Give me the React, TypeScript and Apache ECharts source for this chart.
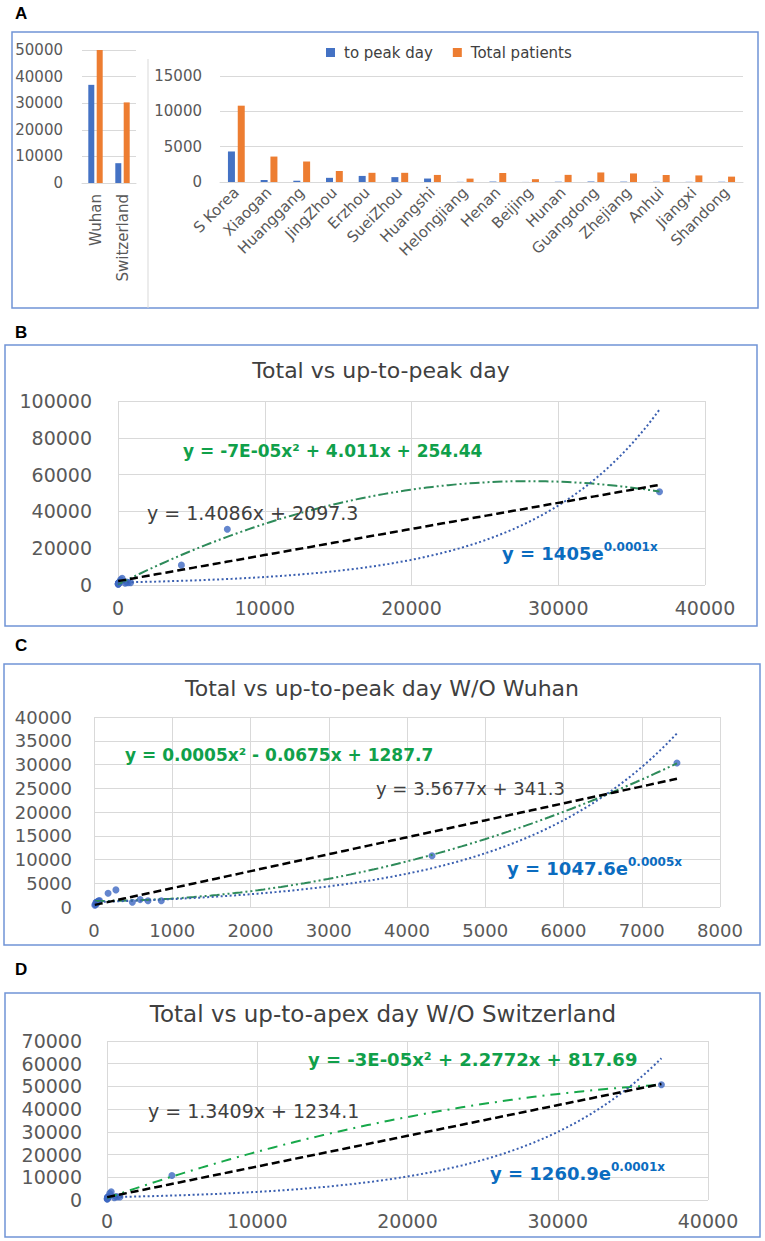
import React, { useEffect, useRef } from 'react';
import * as echarts from 'echarts';

// ---------- data ----------
const leftCategories = ['Wuhan', 'Switzerland'];
const leftToPeak = [36900, 7450];
const leftTotal = [50700, 30300];

const rightCategories = [
  'S Korea', 'Xiaogan', 'Huanggang', 'JingZhou', 'Erzhou', 'SueiZhou', 'Huangshi', 'Helongjiang',
  'Henan', 'Beijing', 'Hunan', 'Guangdong', 'Zhejiang', 'Anhui', 'Jiangxi', 'Shandong',
];
const rightToPeak = [4320, 280, 180, 590, 860, 690, 490, 20, 60, 10, 40, 70, 50, 30, 25, 35];
const rightTotal = [10800, 3600, 2900, 1560, 1300, 1300, 1000, 480, 1270, 400, 1010, 1350, 1210, 990, 930, 760];

const legendNames = ['to peak day', 'Total patients'];
const panelLetters = ['A', 'B', 'C', 'D'];
const scatterTitles = [
  'Total vs up-to-peak day',
  'Total vs up-to-peak day W/O Wuhan',
  'Total vs up-to-apex day W/O Switzerland',
];
const quadLabels = [
  'y = -7E-05x² + 4.011x + 254.44',
  'y = 0.0005x² - 0.0675x + 1287.7',
  'y = -3E-05x² + 2.2772x + 817.69',
];
const linLabels = ['y = 1.4086x + 2097.3', 'y = 3.5677x + 341.3', 'y = 1.3409x + 1234.1'];
const expBaseLabels = ['y = 1405e', 'y = 1047.6e', 'y = 1260.9e'];
const expPowLabels = ['0.0001x', '0.0005x', '0.0001x'];

// ---------- fitting helpers (trendlines fitted to the data, as the spreadsheet does) ----------
type P = [number, number];
function fitLinear(pts: P[]) {
  const n = pts.length;
  let sx = 0, sy = 0, sxx = 0, sxy = 0;
  for (const [x, y] of pts) { sx += x; sy += y; sxx += x * x; sxy += x * y; }
  const a = (n * sxy - sx * sy) / (n * sxx - sx * sx);
  const b = (sy - a * sx) / n;
  return (x: number) => a * x + b;
}
function fitExp(pts: P[]) {
  const f = fitLinear(pts.map(([x, y]) => [x, Math.log(y)] as P));
  return (x: number) => Math.exp(f(x));
}
function fitQuad(pts: P[]) {
  const s = [0, 0, 0, 0, 0];
  const t = [0, 0, 0];
  for (const [x0, y] of pts) {
    const u = x0 / 1000;
    let p = 1;
    for (let k = 0; k < 5; k++) { s[k] += p; if (k < 3) t[k] += p * y; p *= u; }
  }
  const M = [
    [s[0], s[1], s[2], t[0]],
    [s[1], s[2], s[3], t[1]],
    [s[2], s[3], s[4], t[2]],
  ];
  for (let i = 0; i < 3; i++) {
    let piv = i;
    for (let r = i + 1; r < 3; r++) if (Math.abs(M[r][i]) > Math.abs(M[piv][i])) piv = r;
    const tmp = M[i]; M[i] = M[piv]; M[piv] = tmp;
    for (let r = 0; r < 3; r++) {
      if (r === i) continue;
      const f = M[r][i] / M[i][i];
      for (let c = i; c < 4; c++) M[r][c] -= f * M[i][c];
    }
  }
  const c = [M[0][3] / M[0][0], M[1][3] / M[1][1], M[2][3] / M[2][2]];
  return (x: number) => { const u = x / 1000; return c[0] + c[1] * u + c[2] * u * u; };
}
function sampleCurve(pts: P[], f: (x: number) => number): P[] {
  const xs = pts.map((p) => p[0]);
  const lo = Math.min(...xs), hi = Math.max(...xs);
  const out: P[] = [];
  for (let i = 0; i <= 100; i++) { const x = lo + ((hi - lo) * i) / 100; out.push([x, f(x)]); }
  return out;
}

const FONT = '"DejaVu Sans", Verdana, sans-serif';
const GRID_GRAY = '#d9d9d9';
const LABEL_GRAY = '#595959';
const BLUE = '#4472C4';
const ORANGE = '#ED7D31';
const plain = (v: number) => String(v);

export default function App() {
  const ref = useRef<HTMLDivElement>(null);
  useEffect(() => {
    if (!ref.current) return;
    const chart = echarts.init(ref.current, undefined, { renderer: 'svg' });

    const allNames = [...leftCategories, ...rightCategories];
    const allToPeak = [...leftToPeak, ...rightToPeak];
    const allTotal = [...leftTotal, ...rightTotal];
    const ptsAll: P[] = allNames.map((_, i) => [allToPeak[i], allTotal[i]]);
    const ptsNoWuhan = ptsAll.filter((_, i) => allNames[i] !== 'Wuhan');
    const ptsNoSwiss = ptsAll.filter((_, i) => allNames[i] !== 'Switzerland');
    const scatterSets = [ptsAll, ptsNoWuhan, ptsNoSwiss];

    const quadColors = ['#2e8b5a', '#2e8b5a', '#17a84a'];
    const quadDash = [[10, 3, 2, 3, 2, 3], [10, 3, 2, 3, 2, 3], [10, 6, 2, 6]];
    const labelSizes = [19, 18, 19];

    const scatterSeries: any[] = [];
    scatterSets.forEach((pts, k) => {
      const ax = k + 2;
      scatterSeries.push({
        type: 'scatter', xAxisIndex: ax, yAxisIndex: ax, data: pts, symbolSize: 7,
        itemStyle: { color: '#3d68c2' }, z: 3, silent: true,
      });
      scatterSeries.push({
        type: 'line', xAxisIndex: ax, yAxisIndex: ax, data: sampleCurve(pts, fitQuad(pts)),
        symbol: 'none', silent: true, z: 4,
        lineStyle: { color: quadColors[k], width: 2, type: quadDash[k] },
      });
      scatterSeries.push({
        type: 'line', xAxisIndex: ax, yAxisIndex: ax, data: sampleCurve(pts, fitExp(pts)),
        symbol: 'none', silent: true, z: 4,
        lineStyle: { color: '#3a5fb0', width: 2, type: [2, 2.5] },
      });
      scatterSeries.push({
        type: 'line', xAxisIndex: ax, yAxisIndex: ax, data: sampleCurve(pts, fitLinear(pts)),
        symbol: 'none', silent: true, z: 5,
        lineStyle: { color: '#000000', width: 2.5, type: [8, 4] },
      });
    });

    const scatterX = (max: number, interval: number, size: number, margin: number, gi: number) => ({
      type: 'value', gridIndex: gi, min: 0, max, interval,
      axisLine: { show: false }, axisTick: { show: false },
      splitLine: { show: true, lineStyle: { color: GRID_GRAY, width: 1 } },
      axisLabel: { fontSize: size, color: LABEL_GRAY, fontFamily: FONT, margin, formatter: plain },
    });

    const boxes = [
      [12, 32, 746, 276],
      [5, 345, 752, 281],
      [4, 664, 756, 281],
      [5, 993, 755, 244],
    ];
    const letterY = [13, 332, 645, 969];
    const titlePos = [[381, 370, 22], [382, 688, 22], [383, 1014, 23]];
    const quadPos = [[183, 451, 17], [125, 755, 17], [308, 1059, 18]];
    const linPos = [[147, 513], [376, 788], [148, 1111]];
    const expPos = [[502, 553], [507, 868], [490, 1173]];

    const graphic: any[] = [];
    boxes.forEach((b) => graphic.push({
      type: 'rect', shape: { x: b[0], y: b[1], width: b[2], height: b[3] }, z: 0, silent: true,
      style: { fill: 'none', stroke: '#7094d6', lineWidth: 1.5 },
    }));
    graphic.push({
      type: 'line', shape: { x1: 148, y1: 59, x2: 148, y2: 308 }, silent: true,
      style: { stroke: GRID_GRAY, lineWidth: 1 },
    });
    panelLetters.forEach((t, i) => graphic.push({
      type: 'text', x: 15, y: letterY[i], silent: true,
      style: {
        text: t, fill: '#000', fontSize: 17, fontWeight: 'bold', fontFamily: '"Liberation Sans", Arial, sans-serif',
        verticalAlign: 'middle', textVerticalAlign: 'middle',
      },
    }));
    scatterTitles.forEach((t, i) => graphic.push({
      type: 'text', x: titlePos[i][0], y: titlePos[i][1], silent: true, z: 10,
      style: {
        text: t, fill: '#404040', fontSize: titlePos[i][2], fontFamily: FONT, fontWeight: 'normal',
        align: 'center', textAlign: 'center', verticalAlign: 'middle', textVerticalAlign: 'middle',
      },
    }));
    quadLabels.forEach((t, i) => graphic.push({
      type: 'text', x: quadPos[i][0], y: quadPos[i][1], silent: true, z: 10,
      style: {
        text: t, fill: '#10a04a', fontSize: quadPos[i][2], fontWeight: 'bold', fontFamily: FONT,
        verticalAlign: 'middle', textVerticalAlign: 'middle',
      },
    }));
    linLabels.forEach((t, i) => graphic.push({
      type: 'text', x: linPos[i][0], y: linPos[i][1], silent: true, z: 10,
      style: {
        text: t, fill: '#404040', fontSize: labelSizes[i], fontFamily: FONT,
        verticalAlign: 'middle', textVerticalAlign: 'middle',
      },
    }));
    expBaseLabels.forEach((t, i) => graphic.push({
      type: 'text', x: expPos[i][0], y: expPos[i][1], silent: true, z: 10,
      style: {
        text: `{m|${t}}{s|${expPowLabels[i]}}`, verticalAlign: 'middle', textVerticalAlign: 'middle',
        rich: {
          m: { fontSize: 18, fontWeight: 'bold', fontFamily: FONT, fill: '#0b6cbf', color: '#0b6cbf', lineHeight: 24 },
          s: { fontSize: 12, fontWeight: 'bold', fontFamily: FONT, fill: '#0b6cbf', color: '#0b6cbf', verticalAlign: 'top', lineHeight: 24 },
        },
      },
    }));

    const option: any = {
      animation: false,
      backgroundColor: '#ffffff',
      textStyle: { fontFamily: FONT },
      legend: {
        data: legendNames, left: 321, top: 40, icon: 'rect', itemWidth: 9, itemHeight: 9, itemGap: 20,
        selectedMode: false,
        textStyle: { fontSize: 15, color: '#404040', fontFamily: FONT, padding: [0, 0, 0, 4] },
      },
      grid: [
        { left: 82, top: 50, width: 54, height: 133 },
        { left: 220, top: 76, width: 523, height: 106 },
        { left: 118, top: 401, width: 587, height: 184 },
        { left: 94, top: 717, width: 626, height: 190 },
        { left: 107, top: 1041, width: 601, height: 159 },
      ],
      xAxis: [
        {
          type: 'category', gridIndex: 0, data: leftCategories,
          axisLine: { lineStyle: { color: GRID_GRAY } }, axisTick: { show: false },
          axisLabel: { rotate: 90, interval: 0, fontSize: 15, color: LABEL_GRAY, fontFamily: FONT, margin: 11 },
        },
        {
          type: 'category', gridIndex: 1, data: rightCategories,
          axisLine: { lineStyle: { color: GRID_GRAY } }, axisTick: { show: false },
          axisLabel: { rotate: 45, interval: 0, fontSize: 15, color: LABEL_GRAY, fontFamily: FONT, margin: 8 },
        },
        scatterX(40000, 10000, 19, 13, 2),
        scatterX(8000, 1000, 18, 14, 3),
        scatterX(40000, 10000, 19, 11, 4),
      ],
      yAxis: [
        {
          type: 'value', gridIndex: 0, min: 0, max: 50000, interval: 10000,
          axisLine: { show: false }, axisTick: { show: false },
          splitLine: { lineStyle: { color: GRID_GRAY } },
          axisLabel: { fontSize: 15, color: LABEL_GRAY, fontFamily: FONT, margin: 19, formatter: plain },
        },
        {
          type: 'value', gridIndex: 1, min: 0, max: 15000, interval: 5000,
          axisLine: { show: false }, axisTick: { show: false },
          splitLine: { lineStyle: { color: GRID_GRAY } },
          axisLabel: { fontSize: 15, color: LABEL_GRAY, fontFamily: FONT, margin: 18, formatter: plain },
        },
        { ...scatterX(100000, 20000, 19, 26, 2) },
        { ...scatterX(40000, 5000, 18, 22, 3) },
        { ...scatterX(70000, 10000, 19, 25, 4) },
      ],
      series: [
        { name: legendNames[0], type: 'bar', xAxisIndex: 0, yAxisIndex: 0, data: leftToPeak, barWidth: 6, barGap: '40%', itemStyle: { color: BLUE } },
        { name: legendNames[1], type: 'bar', xAxisIndex: 0, yAxisIndex: 0, data: leftTotal, barWidth: 6, barGap: '40%', itemStyle: { color: ORANGE } },
        { name: legendNames[0], type: 'bar', xAxisIndex: 1, yAxisIndex: 1, data: rightToPeak, barWidth: 7, barGap: '40%', itemStyle: { color: BLUE } },
        { name: legendNames[1], type: 'bar', xAxisIndex: 1, yAxisIndex: 1, data: rightTotal, barWidth: 7, barGap: '40%', itemStyle: { color: ORANGE } },
        ...scatterSeries,
      ],
      graphic,
    };
    chart.setOption(option);
    return () => chart.dispose();
  }, []);

  return (
    <div
      ref={ref}
      style={{ position: 'absolute', left: 0, top: 0, width: 765, height: 1241, background: '#fff' }}
    />
  );
}
